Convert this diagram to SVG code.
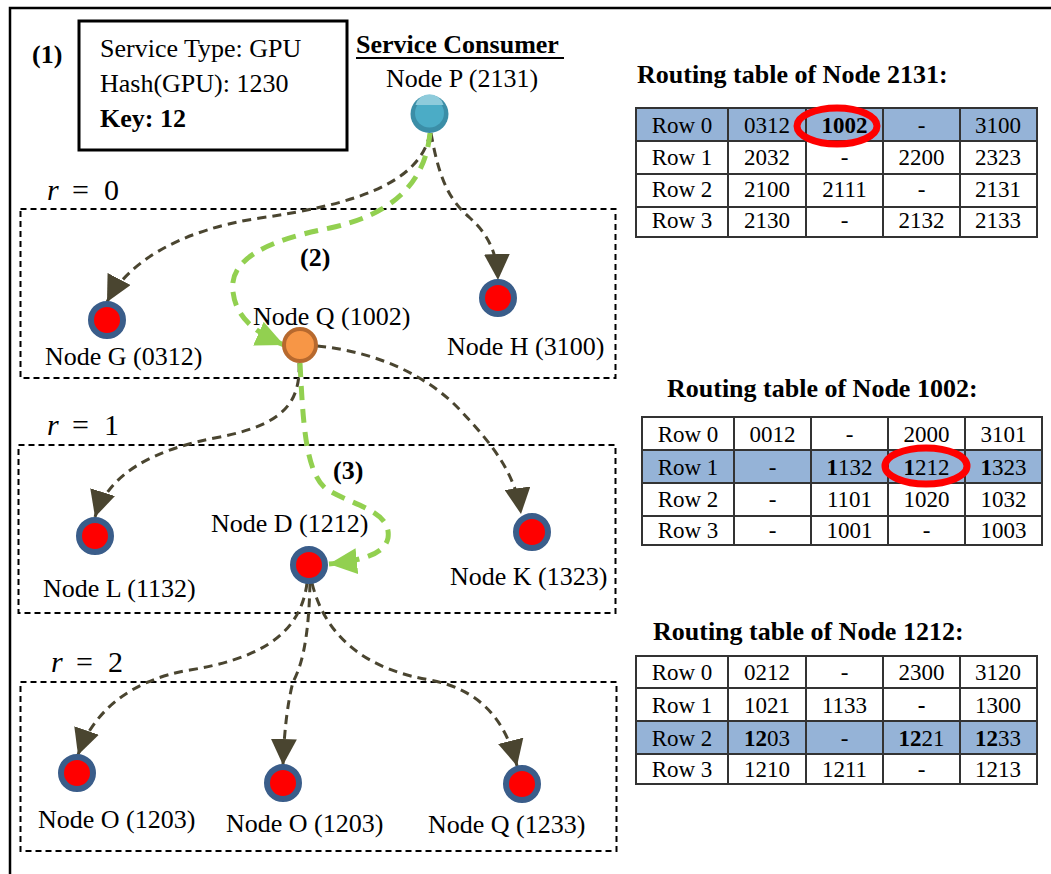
<svg xmlns="http://www.w3.org/2000/svg" width="1051" height="874" viewBox="0 0 1051 874">
  <defs>
    <style>
      text { font-family: "Liberation Serif", "Times New Roman", serif; fill: #000; }
      .lbl { font-size: 26px; }
      .bold { font-weight: bold; }
      .rlab { font-size: 30px; }
      .ttl { font-size: 26px; font-weight: bold; }
      .cell { font-size: 23px; text-anchor: middle; }
      .grp { fill: none; stroke: #000; stroke-width: 2; stroke-dasharray: 6 4; }
      .link { fill: none; stroke: #4a4530; stroke-width: 3; stroke-dasharray: 9 6; marker-end: url(#arrDark); }
      .path { fill: none; stroke: #92d050; stroke-width: 5; stroke-dasharray: 14 9; marker-end: url(#arrGreen); }
      .peer { fill: #ff0000; stroke: #3a5d8a; stroke-width: 6; }
      .grid { fill: none; stroke: #333; stroke-width: 2; }
      .hl { fill: #95b3d7; }
      .mark { fill: none; stroke: #ff0000; stroke-width: 7; }
    </style>
    <marker id="arrDark" markerUnits="userSpaceOnUse" markerWidth="26" markerHeight="26" refX="26" refY="13" orient="auto">
      <path d="M0,0 L26,13 L0,26 z" fill="#4a4530"/>
    </marker>
    <marker id="arrGreen" markerUnits="userSpaceOnUse" markerWidth="28" markerHeight="26" refX="28" refY="13" orient="auto">
      <path d="M0,0 L28,13 L0,26 z" fill="#92d050"/>
    </marker>
  </defs>

  <rect width="1051" height="874" fill="#fff"/>

  <!-- outer frame -->
  <path d="M10,874 L10,8 L1051,8" fill="none" stroke="#000" stroke-width="2.5"/>

  <!-- service description -->
  <g id="request">
    <text class="lbl bold" x="32" y="63">(1)</text>
    <rect x="79" y="21" width="268" height="129" fill="none" stroke="#000" stroke-width="3"/>
    <text class="lbl" x="100" y="57">Service Type: GPU</text>
    <text class="lbl" x="100" y="92">Hash(GPU): 1230</text>
    <text class="lbl bold" x="100" y="127">Key: 12</text>
  </g>

  <!-- level groups -->
  <g id="levels">
    <rect class="grp" x="20.5" y="209" width="595" height="169"/>
    <rect class="grp" x="18.5" y="445" width="597" height="168"/>
    <rect class="grp" x="20.5" y="682" width="596" height="169"/>
    <text class="rlab" y="200"><tspan x="47" font-style="italic">r</tspan><tspan x="72">=</tspan><tspan x="104">0</tspan></text>
    <text class="rlab" y="435"><tspan x="47" font-style="italic">r</tspan><tspan x="72">=</tspan><tspan x="104">1</tspan></text>
    <text class="rlab" y="672"><tspan x="51" font-style="italic">r</tspan><tspan x="76">=</tspan><tspan x="108">2</tspan></text>
    <text class="lbl bold" x="300" y="266">(2)</text>
    <text class="lbl bold" x="333" y="479">(3)</text>
  </g>

  <!-- connectors -->
  <g id="connectors">
    <path class="link" d="M430,133 C420,185 350,205 260,218 C180,230 128,262 107,302"/>
    <path class="link" d="M431,133 C440,185 452,202 470,218 C490,236 497,255 498,280"/>
    <path class="link" d="M299,363 C301,405 280,425 220,437 C150,450 108,475 95,517"/>
    <path class="link" d="M317,346 C380,352 430,378 460,410 C488,440 515,470 521,514"/>
    <path class="link" d="M307,583 C300,640 250,660 190,670 C130,680 93,712 78,755"/>
    <path class="link" d="M310,583 C309,625 305,660 293,682 C287,705 284,735 283,765"/>
    <path class="link" d="M312,583 C326,640 370,670 430,680 C482,690 506,722 517,766"/>
    <path class="path" d="M430,133 C425,185 390,215 330,228 C270,240 228,258 233,292 C236,315 250,330 284,345"/>
    <path class="path" d="M300,363 C303,420 305,470 325,488 C350,505 392,510 388,538 C385,552 368,560 329,564"/>
  </g>

  <!-- nodes -->
  <g id="node-p">
    <text class="lbl bold" x="356" y="53">Service Consumer</text>
    <line x1="356" y1="58" x2="564" y2="58" stroke="#000" stroke-width="2"/>
    <text class="lbl" x="386" y="87">Node P (2131)</text>
    <circle cx="429.5" cy="114" r="19" fill="#3b8ea7"/>
    <circle cx="429.5" cy="113" r="14.5" fill="#4bacc6"/>
    <path d="M415.5,105 A14.5,14.5 0 0 1 443.5,105 Z" fill="#8ecbdb"/>
  </g>
  <g id="node-g">
    <circle class="peer" cx="107" cy="320" r="16"/>
    <text class="lbl" x="45" y="365">Node G (0312)</text>
  </g>
  <g id="node-q">
    <circle cx="300" cy="345" r="16" fill="#f79646" stroke="#b7692e" stroke-width="4"/>
    <text class="lbl" x="253" y="325">Node Q (1002)</text>
  </g>
  <g id="node-h">
    <circle class="peer" cx="498" cy="298" r="16"/>
    <text class="lbl" x="447" y="355">Node H (3100)</text>
  </g>
  <g id="node-l">
    <circle class="peer" cx="95" cy="536" r="16"/>
    <text class="lbl" x="43" y="597">Node L (1132)</text>
  </g>
  <g id="node-d">
    <circle class="peer" cx="309" cy="565" r="16"/>
    <text class="lbl" x="211" y="532">Node D (1212)</text>
  </g>
  <g id="node-k">
    <circle class="peer" cx="532" cy="532" r="16"/>
    <text class="lbl" x="450" y="585">Node K (1323)</text>
  </g>
  <g id="node-o1">
    <circle class="peer" cx="77" cy="773" r="16"/>
    <text class="lbl" x="38" y="828">Node O (1203)</text>
  </g>
  <g id="node-o2">
    <circle class="peer" cx="283" cy="783" r="16"/>
    <text class="lbl" x="226" y="832">Node O (1203)</text>
  </g>
  <g id="node-q2">
    <circle class="peer" cx="522" cy="784" r="16"/>
    <text class="lbl" x="428" y="833">Node Q (1233)</text>
  </g>

  <!-- routing table of node 2131 -->
  <g id="table-2131">
    <text class="ttl" x="637" y="83">Routing table of Node 2131:</text>
    <rect class="hl" x="636" y="108" width="401" height="33"/>
    <rect class="grid" x="636" y="108" width="401" height="129"/>
    <path class="grid" d="M636,141 H1037 M636,174 H1037 M636,207 H1037 M728,108 V237 M806,108 V237 M883,108 V237 M960,108 V237"/>
    <text class="cell" y="133"><tspan x="682">Row 0</tspan><tspan x="767">0312</tspan><tspan x="844.5" font-weight="bold">1002</tspan><tspan x="921.5">-</tspan><tspan x="998">3100</tspan></text>
    <text class="cell" y="165"><tspan x="682">Row 1</tspan><tspan x="767">2032</tspan><tspan x="844.5">-</tspan><tspan x="921.5">2200</tspan><tspan x="998">2323</tspan></text>
    <text class="cell" y="197"><tspan x="682">Row 2</tspan><tspan x="767">2100</tspan><tspan x="844.5">2111</tspan><tspan x="921.5">-</tspan><tspan x="998">2131</tspan></text>
    <text class="cell" y="228"><tspan x="682">Row 3</tspan><tspan x="767">2130</tspan><tspan x="844.5">-</tspan><tspan x="921.5">2132</tspan><tspan x="998">2133</tspan></text>
    <ellipse class="mark" cx="837" cy="126" rx="40" ry="18"/>
  </g>

  <!-- routing table of node 1002 -->
  <g id="table-1002">
    <text class="ttl" x="667" y="397">Routing table of Node 1002:</text>
    <rect class="hl" x="642" y="450" width="400" height="33"/>
    <rect class="grid" x="642" y="417" width="400" height="128"/>
    <path class="grid" d="M642,450 H1042 M642,483 H1042 M642,516 H1042 M734,417 V545 M811,417 V545 M888,417 V545 M965,417 V545"/>
    <text class="cell" y="442"><tspan x="688">Row 0</tspan><tspan x="772.5">0012</tspan><tspan x="849.5">-</tspan><tspan x="926.5">2000</tspan><tspan x="1003.5">3101</tspan></text>
    <text class="cell" y="475"><tspan x="688">Row 1</tspan><tspan x="772.5">-</tspan><tspan x="849.5"><tspan font-weight="bold">1</tspan>132</tspan><tspan x="926.5"><tspan font-weight="bold">1</tspan>212</tspan><tspan x="1003.5"><tspan font-weight="bold">1</tspan>323</tspan></text>
    <text class="cell" y="507"><tspan x="688">Row 2</tspan><tspan x="772.5">-</tspan><tspan x="849.5">1101</tspan><tspan x="926.5">1020</tspan><tspan x="1003.5">1032</tspan></text>
    <text class="cell" y="538"><tspan x="688">Row 3</tspan><tspan x="772.5">-</tspan><tspan x="849.5">1001</tspan><tspan x="926.5">-</tspan><tspan x="1003.5">1003</tspan></text>
    <ellipse class="mark" cx="926" cy="466" rx="41" ry="18"/>
  </g>

  <!-- routing table of node 1212 -->
  <g id="table-1212">
    <text class="ttl" x="653" y="640">Routing table of Node 1212:</text>
    <rect class="hl" x="636" y="721" width="401" height="33"/>
    <rect class="grid" x="636" y="656" width="401" height="128"/>
    <path class="grid" d="M636,688 H1037 M636,721 H1037 M636,754 H1037 M728,656 V784 M806,656 V784 M883,656 V784 M960,656 V784"/>
    <text class="cell" y="680"><tspan x="682">Row 0</tspan><tspan x="767">0212</tspan><tspan x="844.5">-</tspan><tspan x="921.5">2300</tspan><tspan x="998">3120</tspan></text>
    <text class="cell" y="713"><tspan x="682">Row 1</tspan><tspan x="767">1021</tspan><tspan x="844.5">1133</tspan><tspan x="921.5" font-weight="bold">-</tspan><tspan x="998">1300</tspan></text>
    <text class="cell" y="746"><tspan x="682">Row 2</tspan><tspan x="767"><tspan font-weight="bold">12</tspan>03</tspan><tspan x="844.5">-</tspan><tspan x="921.5"><tspan font-weight="bold">12</tspan>21</tspan><tspan x="998"><tspan font-weight="bold">12</tspan>33</tspan></text>
    <text class="cell" y="777"><tspan x="682">Row 3</tspan><tspan x="767">1210</tspan><tspan x="844.5">1211</tspan><tspan x="921.5">-</tspan><tspan x="998">1213</tspan></text>
  </g>
</svg>
